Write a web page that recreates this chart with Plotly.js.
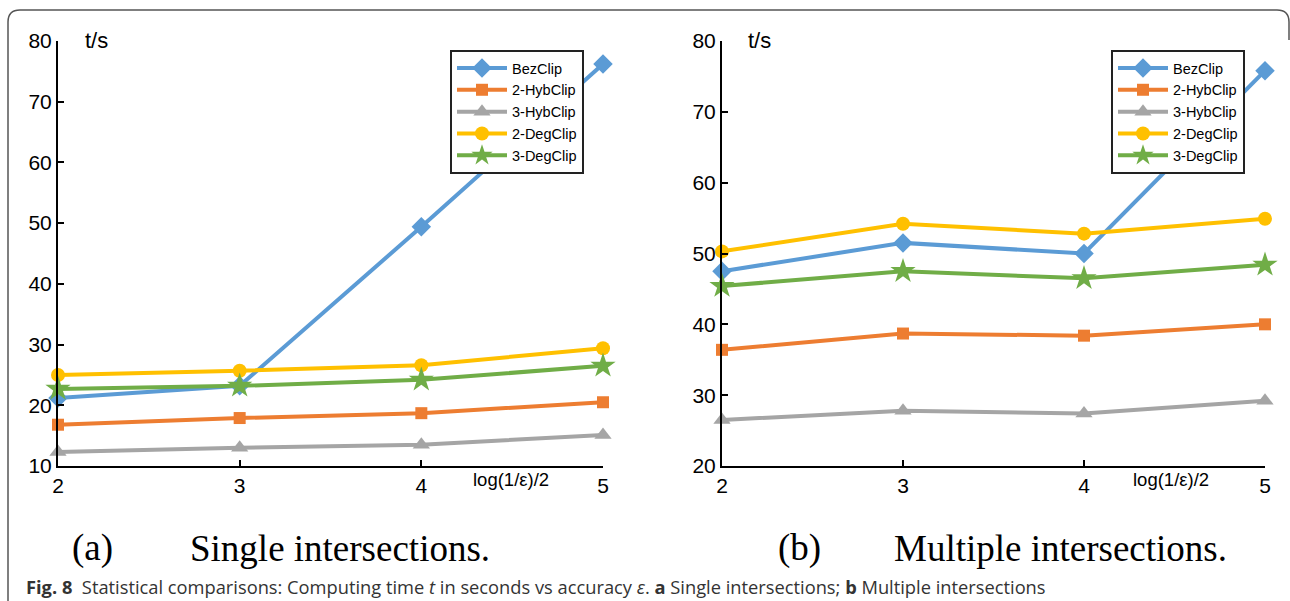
<!DOCTYPE html>
<html>
<head>
<meta charset="utf-8">
<script src="https://cdn.plot.ly/plotly-3.0.1.min.js"></script>
<style>html,body{margin:0;padding:0;background:#fff;}#chart{width:1290px;height:601px;}</style>
</head>
<body>
<div id="chart"></div>
<script>
// ---- data ----
const xValues = [2, 3, 4, 5];
const seriesNames = ["BezClip", "2-HybClip", "3-HybClip", "2-DegClip", "3-DegClip"];
const seriesColors = ["#5B9BD5", "#ED7D31", "#A5A5A5", "#FFC000", "#70AD47"];
const seriesSymbols = ["diamond", "square", "triangle-up", "circle", "star"];
const seriesSizes = [15, 12, 15, 14, 19];

// (a) Single intersections
const singleBez = [21.2, 23.2, 49.4, 76.2];
const singleHyb2 = [16.8, 17.9, 18.7, 20.5];
const singleHyb3 = [12.3, 13.0, 13.5, 15.1];
const singleDeg2 = [25.0, 25.7, 26.6, 29.4];
const singleDeg3 = [22.7, 23.2, 24.2, 26.5];

// (b) Multiple intersections
const multiBez = [47.5, 51.5, 50.0, 75.8];
const multiHyb2 = [36.4, 38.7, 38.4, 40.0];
const multiHyb3 = [26.5, 27.8, 27.4, 29.2];
const multiDeg2 = [50.3, 54.2, 52.8, 54.9];
const multiDeg3 = [45.4, 47.5, 46.5, 48.4];

const xTickVals = [2, 3, 4, 5];
const yTickValsA = [10, 20, 30, 40, 50, 60, 70, 80];
const yTickValsB = [20, 30, 40, 50, 60, 70, 80];

const W = 1290, H = 601;
const px = x => x / W;
const py = y => 1 - y / H;

const singleSeries = [singleBez, singleHyb2, singleHyb3, singleDeg2, singleDeg3];
const multiSeries = [multiBez, multiHyb2, multiHyb3, multiDeg2, multiDeg3];

const traces = [];
singleSeries.forEach((ys, i) => {
  traces.push({
    x: xValues, y: ys, name: seriesNames[i], type: "scatter", mode: "lines+markers",
    xaxis: "x", yaxis: "y", legend: "legend", cliponaxis: false,
    line: {color: seriesColors[i], width: 4},
    marker: {symbol: seriesSymbols[i], size: seriesSizes[i], color: seriesColors[i]}
  });
});
multiSeries.forEach((ys, i) => {
  traces.push({
    x: xValues, y: ys, name: seriesNames[i], type: "scatter", mode: "lines+markers",
    xaxis: "x2", yaxis: "y2", legend: "legend2", cliponaxis: false,
    line: {color: seriesColors[i], width: 4},
    marker: {symbol: seriesSymbols[i], size: seriesSizes[i], color: seriesColors[i]}
  });
});

const SANS = "'Liberation Sans', Arial, sans-serif";
const axisFont = {family: SANS, size: 21, color: "#000"};
const baseAxis = {
  showline: true, linecolor: "#000", linewidth: 2, showgrid: false, zeroline: false,
  ticks: "inside", ticklen: 6, tickwidth: 2, tickcolor: "#000", tickfont: axisFont,
  fixedrange: true
};

const legendBase = {
  bordercolor: "#222", borderwidth: 2, bgcolor: "#fff",
  font: {family: SANS, size: 14.5, color: "#000"},
  xanchor: "left", yanchor: "top", itemwidth: 50, tracegroupgap: 0
};

const annFont = {family: SANS, size: 22, color: "#000"};
const logFont = {family: SANS, size: 18.5, color: "#000"};
const serif = {family: "'Liberation Serif', 'Times New Roman', serif", size: 37, color: "#000"};

const annotations = [
  {text: "t/s", x: px(83), y: py(41), xref: "paper", yref: "paper", xanchor: "left", yanchor: "middle", showarrow: false, font: annFont},
  {text: "t/s", x: px(746), y: py(41), xref: "paper", yref: "paper", xanchor: "left", yanchor: "middle", showarrow: false, font: annFont},
  {text: "log(1/ε)/2", x: px(471), y: py(479), xref: "paper", yref: "paper", xanchor: "left", yanchor: "middle", showarrow: false, font: logFont},
  {text: "log(1/ε)/2", x: px(1131), y: py(479), xref: "paper", yref: "paper", xanchor: "left", yanchor: "middle", showarrow: false, font: logFont},
  {text: "(a)", x: px(70), y: py(548), xref: "paper", yref: "paper", xanchor: "left", yanchor: "middle", showarrow: false, font: serif},
  {text: "Single intersections.", x: px(188), y: py(548), xref: "paper", yref: "paper", xanchor: "left", yanchor: "middle", showarrow: false, font: serif},
  {text: "(b)", x: px(776), y: py(548), xref: "paper", yref: "paper", xanchor: "left", yanchor: "middle", showarrow: false, font: serif},
  {text: "Multiple intersections.", x: px(892), y: py(548), xref: "paper", yref: "paper", xanchor: "left", yanchor: "middle", showarrow: false, font: serif},
  {text: "<b>Fig. 8</b>  Statistical comparisons: Computing time <i>t</i> in seconds vs accuracy <i>ε</i>. <b>a</b> Single intersections; <b>b</b> Multiple intersections",
   x: px(24), y: py(586), xref: "paper", yref: "paper", xanchor: "left", yanchor: "middle", showarrow: false,
   font: {family: "'Open Sans', 'Noto Sans', sans-serif", size: 18.3, color: "#333"}}
];

const framePath = `M ${px(8)},${py(605)} L ${px(8)},${py(22)} Q ${px(8)},${py(10)} ${px(20)},${py(10)} L ${px(1277)},${py(10)} Q ${px(1289)},${py(10)} ${px(1289)},${py(22)} L ${px(1289)},${py(40)}`;

const layout = {
  width: W, height: H,
  margin: {l: 0, r: 0, t: 0, b: 0},
  paper_bgcolor: "#fff", plot_bgcolor: "rgba(0,0,0,0)",
  showlegend: true,
  xaxis: Object.assign({}, baseAxis, {domain: [px(58), px(603)], range: [2, 5], tickvals: xTickVals, anchor: "y"}),
  yaxis: Object.assign({}, baseAxis, {domain: [py(466), py(41)], range: [10, 80], tickvals: yTickValsA, anchor: "x"}),
  xaxis2: Object.assign({}, baseAxis, {domain: [px(722), px(1265)], range: [2, 5], tickvals: xTickVals, anchor: "y2"}),
  yaxis2: Object.assign({}, baseAxis, {domain: [py(466), py(41)], range: [20, 80], tickvals: yTickValsB, anchor: "x2"}),
  legend: Object.assign({}, legendBase, {x: px(450), y: py(50)}),
  legend2: Object.assign({}, legendBase, {x: px(1111), y: py(50)}),
  annotations: annotations,
  shapes: [
    {type: "path", xref: "paper", yref: "paper", path: framePath, line: {color: "#555", width: 1.5}}
  ]
};

Plotly.newPlot("chart", traces, layout, {staticPlot: true, displayModeBar: false});
</script>
</body>
</html>
